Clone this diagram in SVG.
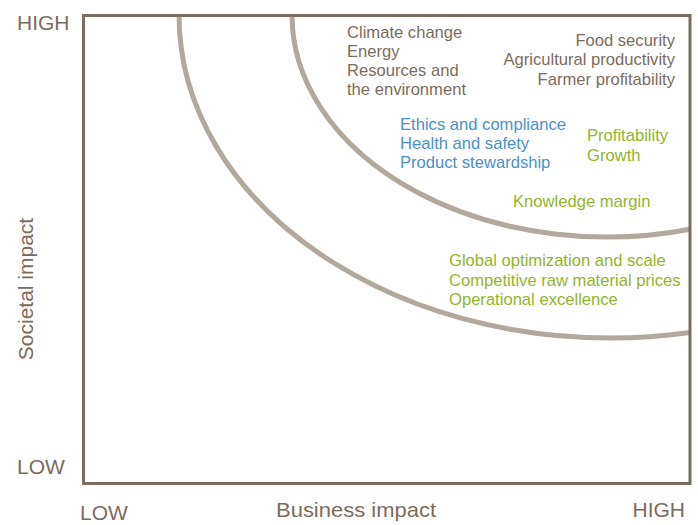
<svg xmlns="http://www.w3.org/2000/svg" width="698" height="525" viewBox="0 0 698 525">
<style>
text{font-family:"Liberation Sans","DejaVu Sans",Arial,sans-serif;}
.ax{font-size:21px;fill:#7b6c5d;}
.g{font-size:16.6px;fill:#7b6c5d;}
.b{font-size:16.6px;fill:#4b90c6;}
.gr{font-size:16.6px;fill:#93b42b;}
.arc{fill:none;stroke:#b2a89c;stroke-width:5;}
.frame{fill:none;stroke:#7b6c5d;stroke-width:3;}
</style>
<rect width="698" height="525" fill="#ffffff"/>
<g id="arcs">
<path class="arc" d="M179,15 A431,323 0 0 0 690,332.4"/>
<path class="arc" d="M292,15 A315,222 0 0 0 690,229.2"/>
</g>
<g id="frame">
<path class="frame" d="M83.5,15.5 H690 V483.5 H83.5 Z"/>
</g>
<g id="axis-labels">
<text class="ax" x="17" y="30">HIGH</text>
<text class="ax" x="17" y="474">LOW</text>
<text class="ax" x="80" y="520">LOW</text>
<text class="ax" x="276" y="517" textLength="160" lengthAdjust="spacingAndGlyphs">Business impact</text>
<text class="ax" x="685" y="517" text-anchor="end">HIGH</text>
<text class="ax" transform="translate(33,289) rotate(-90)" text-anchor="middle">Societal impact</text>
</g>
<g id="societal-topics">
<text class="g" x="347" y="38">Climate change</text>
<text class="g" x="347" y="57">Energy</text>
<text class="g" x="347" y="76">Resources and</text>
<text class="g" x="347" y="95">the environment</text>
</g>
<g id="agri-topics">
<text class="g" x="675" y="46" text-anchor="end">Food security</text>
<text class="g" x="675" y="65" text-anchor="end">Agricultural productivity</text>
<text class="g" x="675" y="85" text-anchor="end">Farmer profitability</text>
</g>
<g id="governance-topics">
<text class="b" x="400" y="130">Ethics and compliance</text>
<text class="b" x="400" y="149">Health and safety</text>
<text class="b" x="400" y="168">Product stewardship</text>
</g>
<g id="growth-topics">
<text class="gr" x="587" y="141">Profitability</text>
<text class="gr" x="587" y="161">Growth</text>
</g>
<g id="knowledge">
<text class="gr" x="513" y="207">Knowledge margin</text>
</g>
<g id="operations-topics">
<text class="gr" x="449" y="266">Global optimization and scale</text>
<text class="gr" x="449" y="286">Competitive raw material prices</text>
<text class="gr" x="449" y="305">Operational excellence</text>
</g>
</svg>
